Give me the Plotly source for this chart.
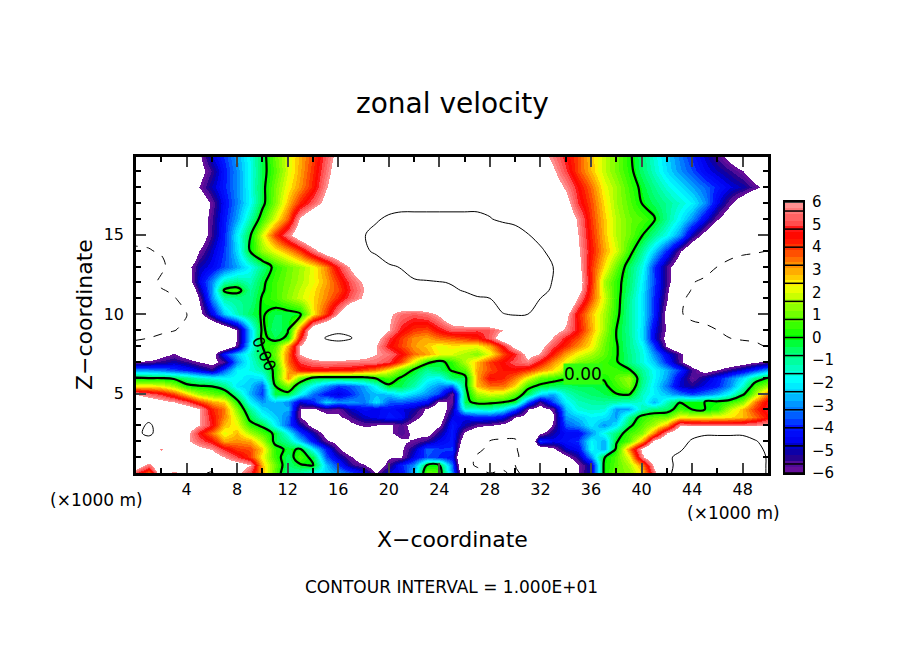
import numpy as np
import plotly.graph_objects as go
from plotly.subplots import make_subplots

# model grid (km)
x_km = list(range(0, 51))
z_km = [20, 19, 18, 17, 16, 15, 14, 13, 12, 11.5, 11, 10, 9, 8.5, 8, 7.5, 7, 6.5, 6, 5.5, 5, 4.5, 4, 3.5, 3, 2.5, 2, 1.5, 1, 0.5, 0]

# zonal velocity, one row per z_km, one value per x_km
zonal_u = [
 [-8.5,-8.5,-8.5,-8,-7.5,-6.2,-4.6,-3.8,-2.8,-1.7, -.4,1,2,2.9,3.9,5.2,6.5,7,7.5,8, 8,8,8,8,8,8,8,8,8,8, 8,7.8,6.6,5.6,4.6,3.8,2.7,1.8,1.1,.2, -.7,-1.6,-2.4,-3.2,-4,-4.8,-5.6,-6.5,-7.5,-8, -8],
 [-8.5,-8.5,-8.5,-8,-7.5,-6.5,-5.4,-4.1,-3,-1.8, -.4,.8,2,3,4.1,5.5,6.8,7.3,7.6,8, 8.3,8.3,8.3,8.3,8.3,8.3,8.3,8.3,8.3,8.2, 8,7.6,7,6.2,5,3.8,2.8,1.8,1.1,.3, -.6,-1.4,-2.3,-3,-3.6,-4.4,-4.9,-5.4,-6,-7, -8],
 [-8.5,-8.5,-8.5,-8,-7.5,-6,-4.9,-4,-3,-1.8, -.3,1.1,2.3,3.2,4.3,5.9,7,7.4,7.8,8.2, 8.6,8.8,8.8,8.8,8.8,8.8,8.8,8.8,8.7,8.6, 8.4,8.2,7.8,6.8,5.8,4.6,3.5,2.2,1.5,.6, -.2,-.9,-1.6,-2.2,-2.8,-3.4,-4,-4.6,-5,-5.7, -6.5],
 [-8.5,-8.5,-8.5,-8,-7.5,-7,-5.8,-4.3,-3.1,-1.9, -.3,1.2,2.8,4.2,5.3,6.5,7.5,7.9,8.2,8.7, 9.2,9.5,9.5,9.5,9.5,9.5,9.5,9.5,9.4,9.2, 8.8,8.4,7.9,7.2,6.5,4.9,3.8,2.5,1.5,.8, 0,-.5,-1,-1.5,-2,-3,-4.5,-5.8,-7,-8, -8],
 [-9,-9,-9,-8.5,-8,-7,-5.5,-4.1,-2.8,-1.2, .5,2.1,3.7,6.2,7.5,8,8.3,8.6,9.2,9.8, 10.3,10.4,10.4,10.4,10.4,10.4,10.4,10.4,10.1,9.6, 9,8.6,8,7.5,7,5.8,4,2.7,1.7,1, .7,.1,-1,-2,-3,-4.5,-5.9,-7,-8,-8.5, -9],
 [-9.5,-9.5,-9.3,-9,-8.5,-7,-5.4,-4,-2,-.2, 2,4,5.6,7,8,8.5,9,9.5,9.9,10.5, 11.5,11.5,11.5,11.5,11.5,11.5,11.5,11.5,11.5,11.5, 11.5,10.1,9.3,8.5,7.3,6,4.2,2.8,1.7,1, .1,-.9,-1.8,-3,-5,-6.5,-8,-9,-9.2,-9.4, -9.5],
 [-10.2,-10.1,-9.8,-9,-8,-6,-4.8,-3.8,-2.3,0, 1.4,2.2,3,4,5.5,6.8,7.5,8.5,9.5,10.5, 12,12,12,12,12,12,12,12,12,12, 12,12,10.3,9.3,8,6.2,4.4,3,2,.5, -1,-2.4,-4,-5.9,-7.5,-8.5,-9,-9.4,-9.6,-9.8, -10],
 [-12,-11.5,-10.5,-9,-6.5,-5,-4.4,-3.6,-2.8,-1.9, -.8,.3,1,1.5,2.2,3.3,4.8,6.2,7.5,8.5, 9.6,10.2,12,12,12,12,12,12,12,12, 12,12,11,10,8.5,6.5,4.1,2.5,1,-.5, -1.7,-3.8,-5.6,-7,-8,-9,-10,-10.5,-11,-11, -11],
 [-12,-11,-9.5,-9,-7,-4.6,-3,-1.2,-.8,-1.3, -.2,.6,1.1,1.6,2.2,3,4,5.2,6.2,7.5, 8.5,9,9.4,9.7,9.9,10.1,11,11.5,11.5,11.5, 11.5,11.5,11.5,9.8,8,6.8,4.2,1.6,.4,-.6, -2,-3.7,-5.5,-7.5,-9.9,-10.5,-11,-11,-11,-11, -11],
 [-11.5,-11,-10.2,-9.6,-8,-5.2,-2.9,.2,.5,-1, -.1,.6,1.2,1.8,2.4,3.2,3.8,5,6,7, 8,8.5,8.9,9.2,9.5,9.8,10.1,11,11,11, 11,11,11,9.5,8,6.6,4,1.8,.4,-.7, -2.1,-3.8,-5.7,-8.5,-10.2,-10.8,-10.8,-10.8,-10.8,-10.8, -10.8],
 [-11,-11,-10.5,-10.2,-9,-5.9,-3,-1.1,-.9,-.9, .1,.6,1.3,1.9,2.5,3.3,4.2,5.3,6.2,7, 7.5,8,8.4,8.7,9,9.3,9.5,9.7,10,11, 11,11,10,8.7,8,5.9,3.8,2,.4,-.9, -2.2,-3.9,-5.9,-9.5,-10.5,-11,-11,-11,-11,-11, -11],
 [-10.8,-10.8,-10.6,-10.3,-10.1,-6.5,-4.5,-2.5,-1.3,-.5, .1,-.4,-.4,-.1,2.4,4,6,8,8.5,8, 6.2,5.5,5.2,5.5,6.2,7.5,8.5,9,9.5,9.9, 10.2,10,9.5,8.8,6.4,4.3,2.8,1.6,.3,-1, -2.1,-3.9,-6.5,-9.8,-10.5,-10.8,-11,-11,-11,-11, -11],
 [-11,-10.8,-10.5,-10.1,-9.5,-9,-8.5,-7.5,-6,-2.5, .2,-.7,-.1,3.5,7.5,8.5,9.5,9,8.5,7.5, 6,4.7,4,3.8,4.6,5.3,5.2,5,5.2,6, 7,7.5,7.5,6.6,5.8,4.5,3,1.5,0,-1, -2.2,-4.5,-6.2,-8,-9.3,-9.5,-10,-10.3,-10.5,-10.5, -10.5],
 [-10.2,-10,-9.5,-9.2,-9,-8.7,-8.3,-7.5,-6,-2.5, .3,-.4,.2,4.5,7.5,10.2,10.6,10.2,8,6.5, 5,4,3.2,3,3.5,3.7,4,4.3,5.3,7, 8,8,7.5,5.9,4.6,3.8,2.6,1.2,0,-.9, -2.2,-4.6,-6.5,-8,-8.5,-9,-9.5,-10,-10.2,-10.2, -10.3],
 [-9.5,-9,-9,-8.5,-8.3,-8.2,-8,-7.5,-5.7,-2, 0,.7,3,6,8,8.5,9,8.5,7.5,6, 4.6,3.9,3.1,2.7,2.1,2.4,2.3,2.2,3,4.7, 6.5,7.5,6.5,5.1,4.1,3.2,2.4,1,.1,-.9, -1.8,-3.7,-6.2,-7.5,-8,-8.5,-9,-9.2,-9.5,-9.8, -10.1],
 [-8,-7.5,-6.5,-5.9,-6.8,-7.5,-6.8,-4,-2.5,-1.5, -.3,1,3.5,6,7,7.5,7.5,7,6.5,6, 5.5,4.6,3.5,3,2.3,2,1.6,1.2,2.2,3.8, 4.8,6.5,5.9,4.3,3,2.2,1.6,.9,.1,-.8, -1.6,-3,-4.5,-5.7,-7,-7.8,-8,-8.2,-8.5,-8.5, -8.5],
 [-5.9,-5.7,-5.3,-5,-5.4,-6,-6.4,-5.6,-3,-1.7, -.6,.6,3.5,5,5.5,5.7,5.6,5.6,5.6,5.5, 5,3.8,2,.3,-.3,.4,1.7,2.8,4,4.6, 5.2,5.7,4.5,3.2,2.2,1.2,.9,.5,.1,-.8, -1.6,-2.5,-4,-5.7,-7,-7.5,-7.2,-7,-6.6,-6.1, -5.7],
 [-2.9,-3,-3.2,-3.6,-4,-4.6,-5.3,-3.5,-2,-1.7, -1.2,.3,3,4.3,4.5,4.5,4.4,4.3,3.8,3.3, 2.3,1,-.1,-1,-.5,.1,.8,3,3.8,4.4, 4.5,4,3.2,2.5,1.5,.8,.6,.6,.5,.1, -1,-1.9,-2.7,-3.8,-5.5,-6.5,-6,-5.3,-4.6,-3.8, -2.8],
 [0,-.1,-.1,-.3,-.8,-1.3,-1.7,-2,-1.8,-2.3, -2.2,.4,3.2,1,-.2,-.4,-.4,-.3,-.3,.2, .5,-.1,-.7,-1.7,-2,-.5,-.4,3,4.5,4.2, 3.4,2.1,.9,.5,.2,.5,.4,.1,.8,1.5, -.8,-1.9,-2.9,-4.6,-5.8,-5,-4.2,-3.2,-2.2,-.8, 0],
 [2.3,2.4,2.2,1.5,.2,0,-.1,-.8,-2.2,-2.5, -3.5,0,1.2,-.8,-2,-3,-3.8,-3.5,-2.8,-1.8, -.1,-.4,-1.2,-2.4,-3,-3.5,-.4,2.8,3.5,3.5, 2.5,.4,-.2,-.5,-.6,-.4,-.4,-.2,.5,1.2, -1,-2.1,-3.3,-4.8,-5.2,-4.5,-4,-3,-1.5,.6, 1.5],
 [5.9,5.3,4.8,3.9,2.6,1.5,1,.7,-1,-2.7, -3.8,-.4,-.3,-1.8,-3.3,-4.2,-4.7,-3.9,-3,-2.6, -2.5,-1.9,-2.4,-3,-3.7,-5.9,-.5,1.5,2,1.8, .9,-.5,-2.2,-2.8,-1.4,-.9,-.6,-.4,0,.2, -1.4,-2,-2.6,-3.2,-3.7,-3.2,-2.7,-1.8,-.3,1.5, 3.5],
 [7.5,7,6.5,6,5.2,4,3,2.6,.3,-2, -2.9,-2.5,-3,-4.8,-4,-2.3,-3,-2.9,-3.2,-2.2, -3.5,-3.5,-3.8,-4.2,-6.3,-5.8,-.4,.5,.4,.2, -.3,-3.5,-5.6,-3.6,-2,-1.3,-1.1,-1,-1.2,-1.4, -1.5,-2.7,-1.3,-.1,-.1,0,.1,.5,1.3,3.4, 4.8],
 [8,8,7.8,7.4,6.9,6.1,4.2,3.4,1.2,-1, -2.3,-2.8,-2.7,-6,-6.2,-5.5,-5.8,-4.8,-4.3,-4.5, -4.2,-4.6,-5,-6.2,-7,-5.2,-1.5,-1.5,-1.3,-2, -3.5,-6,-6.5,-5.8,-2.5,-1.6,-1.4,-1.5,-2.9,-2.8, -1.3,-.8,-.6,.6,0,0,.3,1.8,2.8,4, 5],
 [8.5,9.3,8,7.5,7,6.1,4.5,3.3,1.8,-.3, -1.6,-2.4,-3.2,-6,-7,-6.5,-6.2,-5.5,-4.8,-4.5, -4,-4.3,-5.6,-6.5,-6.8,-4.6,-4.5,-4,-4,-4.5, -6,-6.5,-6.8,-6.2,-2.9,-2.5,-2,-2.2,-2.9,-1, .4,.9,1,2.3,2.2,2.2,2.3,2.5,2.8,3.5, 4.5],
 [9,10.4,9,8.5,7,6,4.7,2.8,2.2,.4, -.2,-2,-3.5,-5,-6.5,-7.5,-7.5,-6.3,-5.8,-6, -6.2,-5.6,-6.5,-7,-6.2,-4,-5,-5.7,-5.9,-6.3, -7,-8,-8,-5.8,-3.5,-3,-2.1,-3,-2.2,-.3, .8,1.6,3,5.9,5.6,5.5,5.5,5.5,5.5,5.7, 6],
 [9.5,10.5,9,8,6.3,4.7,3.4,2.1,2.8,1.6, .7,-.2,-1.9,-3.7,-5,-6.5,-8,-8,-6.8,-6.5, -6.2,-5.5,-6.3,-6.5,-5.2,-4,-6.2,-7,-8,-9.5, -9.5,-9,-6.3,-5,-4.3,-4.4,-3,-1.7,-.7,.6, 1.2,3.3,6,7.5,9.5,9.7,9.7,9.7,9.7,9.4, 9],
 [9,9,8.5,7.5,6.2,5.3,4.5,3,3.2,3, 1.7,-.3,-1,-2.5,-4.2,-5.8,-6.5,-7.5,-8,-7, -7,-6.2,-5.9,-5.3,-4.5,-4,-7,-9,-10.1,-10.2, -10.2,-9,-3.8,-4.5,-4.2,-3.8,-1.9,-2.8,-.1,.8, 3,6.3,7.5,9.3,10.2,10.8,10.8,10.8,10.8,10.1, 9.5],
 [8.5,8.5,5.7,8,7,6.4,5.9,4.8,4,3.8, 2.7,.4,-.2,.1,-2,-4,-5.8,-7,-8,-6.2, -7,-6.2,-5,-3.4,-3.8,-3.8,-8,-9.5,-10.5,-10.5, -10.2,-9,-7,-6.3,-4.8,-4.4,-1.8,-2.8,.2,3.3, 6.3,8,9,9.7,10.8,11.2,11.2,11.2,10.8,10.3, 9.8],
 [7,7.5,8,7.5,7.3,7,6.8,6,5,4, 2.3,.5,-.6,.7,-.4,-3.5,-4.8,-5.9,-7,-7, -6.1,-6.1,-4.5,-3.6,-3.9,-4.3,-9,-10.3,-10.8,-10.8, -10.4,-9,-8.5,-7.5,-6.3,-5.2,-3,-.1,.8,2.2, 5.7,7.5,9.6,10.5,12,12,12,12,12,11, 9.8],
 [7,5.5,8,7.5,7.5,8,8.3,7,6.8,6, 2.8,1,-.7,-.1,.1,-2.5,-3.8,-5.3,-5.9,-7, -5.5,-4,-3,0,0,-3.3,-9,-10.4,-11,-10.5, -10,-9,-8.5,-8,-7.5,-6.1,-4.8,.05,.8,1.6, 3.2,6.3,9,11,12,12,12,12,12,11, 9.8],
 [5,3.5,7,5.5,7,9.5,10.3,8,6.5,5, 3,.8,-1,-1.2,-1.8,-2.3,-2.8,-3.5,-4.5,-6, -4.5,-4.4,-2.5,1,.7,-3,-8,-9,-10,-9.7, -10.5,-9,-8.5,-8,-6.2,-6,-4.8,.05,1,1.3, 2.5,5.5,9.4,11,11.5,11.5,11.5,11.5,11.5,11, 9.8],
]

# colour table of the plot, value -> colour
scale_values = [-6, -5.6, -5.3, -4.9, -4.6, -4, -3.6, -3, -2.4, -1.9, -1.2, -0.4, 0, 0.8, 1.6, 2.3, 2.7, 3.2, 3.8, 4.3, 4.7, 5, 5.5, 6]
scale_colors = ["#70109c", "#500c98", "#200090", "#0000b8", "#0000f0", "#0014ff", "#0050ff", "#0090ff", "#00d8ff", "#00ffff", "#00ffb0", "#00ff55",
                "#00ff00", "#55ff00", "#aaff00", "#ffff00", "#ffc800", "#ff9000", "#ff4800", "#ff1400", "#ff0000", "#ff4848", "#ff7070", "#ff9c9c"]

x_ticks = [4, 8, 12, 16, 20, 24, 28, 32, 36, 40, 44, 48]
z_ticks = [5, 10, 15]
bar_ticks = [-6, -5, -4, -3, -2, -1, 0, 1, 2, 3, 4, 5, 6]
bar_levels = [-6, -5.6, -4.8, -4, -3.2, -2.4, -1.6, -0.8, 0, 0.8, 1.6, 2.4, 3.2, 4, 4.8, 5.6, 6]

FONT = "DejaVu Sans"
W, H = 904, 654


def hex_rgb(c):
    return np.array([int(c[i:i + 2], 16) for i in (1, 3, 5)], dtype=float)


def color_at(v):
    rgb = [np.interp(v, scale_values, [hex_rgb(c)[k] for c in scale_colors]) for k in range(3)]
    return "rgb(%d,%d,%d)" % tuple(rgb)


# stepped colour scale, white beyond +-6
zlim = 6.3
def frac(v):
    return (v + zlim) / (2 * zlim)

steps = np.arange(-6, 6.01, 0.8 / 3)
steps[-1] = 6
colorscale = [[0, "white"], [frac(-6) - 1e-4, "white"]]
for lo, hi in zip(steps[:-1], steps[1:]):
    col = color_at((lo + hi) / 2)
    colorscale.append([frac(lo), col])
    colorscale.append([frac(hi) - 1e-4, col])
colorscale += [[frac(6), "white"], [1, "white"]]

u = np.array(zonal_u, dtype=float)[::-1]
z = z_km[::-1]

fig = make_subplots(rows=1, cols=2)

fig.add_trace(go.Heatmap(x=x_km, y=z, z=u, zsmooth="best", zmin=-zlim, zmax=zlim,
                         colorscale=colorscale, showscale=False, hoverinfo="skip"), row=1, col=1)

# contours at -10, 0, +10
for level, dash, lw in [(-10, "dash", 1), (0, "solid", 2.2), (10, "solid", 1)]:
    fig.add_trace(go.Contour(x=x_km, y=z, z=u, autocontour=False,
                             contours=dict(start=level, end=level, size=1, coloring="none"),
                             line=dict(color="black", width=lw, dash=dash, smoothing=1),
                             showscale=False, hoverinfo="skip"), row=1, col=1)

# colour bar as its own little axes
bar_y = np.arange(-6, 6.001, 0.05)
fig.add_trace(go.Heatmap(x=[0, 1], y=bar_y, z=[[v, v] for v in bar_y], zmin=-zlim, zmax=zlim,
                         colorscale=colorscale, showscale=False, hoverinfo="skip"), row=1, col=2)
line_x, line_y = [], []
for lev in bar_levels:
    line_x += [0, 1, None]
    line_y += [lev, lev, None]
fig.add_trace(go.Scatter(x=line_x, y=line_y, mode="lines", line=dict(color="black", width=1.5),
                         showlegend=False, hoverinfo="skip"), row=1, col=2)

fig.update_layout(
    width=W, height=H,
    margin=dict(l=0, r=0, t=0, b=0, autoexpand=False),
    plot_bgcolor="white", paper_bgcolor="white",
    showlegend=False,
    font=dict(family=FONT, size=16, color="black"),
)
fig.update_xaxes(row=1, col=1, domain=[136 / W, 768 / W], range=[0, 50], tickmode="array", tickvals=x_ticks,
                 ticks="inside", ticklen=10, tickwidth=2, showline=True, linewidth=2.5, linecolor="black",
                 mirror="ticks", showgrid=False, zeroline=False, ticklabelstandoff=0,
                 minor=dict(dtick=2, tick0=0, ticks="inside", ticklen=5, tickwidth=1.5, tickcolor="black", showgrid=False))
fig.update_yaxes(row=1, col=1, domain=[(H - 473) / H, (H - 157) / H], range=[0, 19.9], tickmode="array", tickvals=z_ticks,
                 ticks="inside", ticklen=10, tickwidth=2, showline=True, linewidth=2.5, linecolor="black",
                 mirror="ticks", showgrid=False, zeroline=False, ticklabelstandoff=6,
                 minor=dict(dtick=1, tick0=0, ticks="inside", ticklen=5, tickwidth=1.5, tickcolor="black", showgrid=False))
fig.update_xaxes(row=1, col=2, domain=[785 / W, 803 / W], range=[0, 1], showticklabels=False, ticks="",
                 showline=True, linewidth=2, linecolor="black", mirror=True, showgrid=False, zeroline=False)
fig.update_yaxes(row=1, col=2, domain=[(H - 473) / H, (H - 202) / H], range=[-6, 6], side="right", tickmode="array",
                 tickvals=bar_ticks, ticktext=["\u2212" + str(-t) if t < 0 else str(t) for t in bar_ticks], ticks="",
                 tickfont=dict(size=15), ticklabelstandoff=4, showline=True, linewidth=2, linecolor="black", mirror=True,
                 showgrid=False, zeroline=False)

texts = [
    ("zonal velocity", 452, 104, 28, 0),
    ("Z\u2212coordinate", 84, 315, 22, -90),
    ("X\u2212coordinate", 452, 539, 22, 0),
    ("CONTOUR INTERVAL = 1.000E+01", 451, 587, 17, 0),
    ("(\u00d71000 m)", 96, 500, 17, 0),
    ("(\u00d71000 m)", 733, 513, 17, 0),
]
for txt, px, py, size, angle in texts:
    fig.add_annotation(text=txt, x=px / W, y=1 - py / H, xref="paper", yref="paper", xanchor="center", yanchor="middle",
                       showarrow=False, textangle=angle, font=dict(family=FONT, size=size, color="black"))

# contour labels on the zero line
fig.add_annotation(text="0.00", x=35.4, y=6.25, xref="x", yref="y", showarrow=False, bgcolor="#30ff10",
                   borderpad=0, font=dict(family=FONT, size=17, color="black"))
fig.add_annotation(text="0.00", x=10.1, y=7.5, xref="x", yref="y", showarrow=False, textangle=66,
                   font=dict(family=FONT, size=16, color="black"))

fig.write_html("out.html", config=dict(displayModeBar=False), post_script="document.body.style.margin='0';")
